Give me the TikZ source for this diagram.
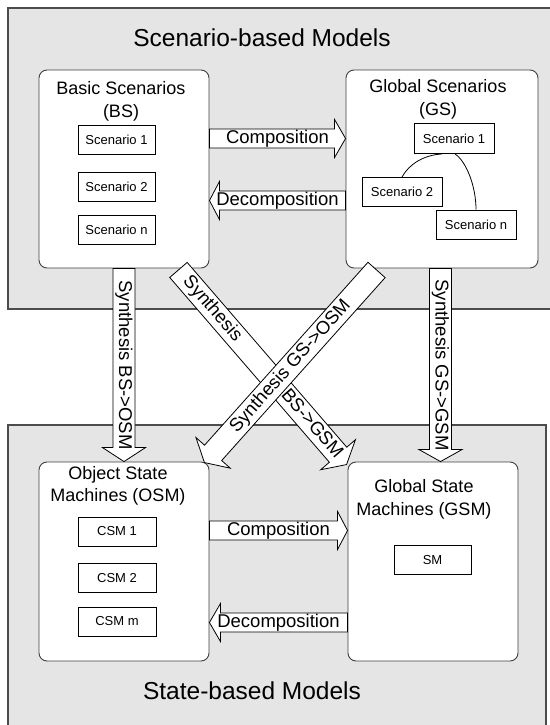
\documentclass[tikz,border=0pt]{standalone}
\usepackage{fontspec}
\setmainfont{Liberation Sans}
\usetikzlibrary{calc}

\tikzset{
  panel/.style={draw=black!70, line width=1.2pt, fill=black!10},
  group/.style={draw=black!75, line width=0.9pt, fill=white, rounded corners=8pt, inner sep=0pt},
  item/.style={draw=black, line width=0.9pt, fill=white, minimum height=29pt, inner sep=0pt,
               font=\fontsize{13}{15}\selectfont},
  heading/.style={font=\fontsize{24.5}{29}\selectfont, inner sep=0pt},
  grouptitle/.style={font=\fontsize{18}{22.5}\selectfont, align=center, inner sep=0pt},
  barrow/.style={draw=black, line width=0.8pt, fill=white, line join=miter},
  barrowtext/.style={font=\fontsize{18.5}{21}\selectfont, inner sep=0pt},
}

% Block arrow: #1 tail, #2 tip, #3 half shaft width, #4 half head width,
% #5 head length, #6 label
\newcommand\blockarrow[6]{%
  \coordinate (ba-s) at (#1);
  \coordinate (ba-t) at (#2);
  \coordinate (ba-b) at ($(ba-t)!#5!(ba-s)$);
  \draw[barrow] ($(ba-s)!#3!90:(ba-t)$) -- ($(ba-b)!#3!-90:(ba-s)$)
    -- ($(ba-b)!#4!-90:(ba-s)$) -- (ba-t) -- ($(ba-b)!#4!90:(ba-s)$)
    -- ($(ba-b)!#3!90:(ba-s)$) -- ($(ba-s)!#3!-90:(ba-t)$) -- cycle;
  \path (ba-s) -- (ba-t) node[barrowtext, midway, sloped] {#6};
}

\begin{document}
\begin{tikzpicture}[x=1pt, y=-1pt]
\fill[white] (0,0) rectangle (549,725);
\useasboundingbox (0,0) rectangle (549,725);

% the two model layers
\path[panel] (8,8) rectangle (552,309);
\path[panel] (8,425) rectangle (546,730);
\node[heading, anchor=base] (scen) at (262,47) {Scenario-based Models};
\node[heading, anchor=base] (state) at (252,699) {State-based Models};

% model groups
\node[group, minimum width=170pt, minimum height=198pt] (bs) at (124,169) {};
\node[group, minimum width=192pt, minimum height=198pt] (gs) at (442,169) {};
\node[group, minimum width=170pt, minimum height=199pt] (osm) at (124,561.5) {};
\node[group, minimum width=170pt, minimum height=199pt] (gsm) at (433,561.5) {};

% titles, placed by the baseline of their last line
\node[grouptitle, anchor=base] (bst) at (121,117) {Basic Scenarios\\(BS)};
\node[grouptitle, anchor=base] (gst) at (438,115) {Global Scenarios\\(GS)};
\node[grouptitle, anchor=base] (osmt) at (118,501.5) {Object State\\Machines (OSM)};
\node[grouptitle, anchor=base] (gsmt) at (424,515) {Global State\\Machines (GSM)};

% basic scenarios
\node[item, minimum width=77pt] (bs1) at (116.5,140) {Scenario 1};
\node[item, minimum width=77pt] (bs2) at (116.5,186.5) {Scenario 2};
\node[item, minimum width=77pt] (bsn) at (116.5,230) {Scenario n};

% global scenarios
\node[item, minimum width=80pt, minimum height=30pt] (gs1) at (454,138.5) {Scenario 1};
\node[item, minimum width=80pt] (gs2) at (402,192) {Scenario 2};
\node[item, minimum width=80pt] (gsn) at (476,224.5) {Scenario n};
\draw[line width=0.8pt] (gs2.north) .. controls +(7,-13) and +(-18,1) .. ([xshift=-12pt]gs1.south);
\draw[line width=0.8pt] ([xshift=1pt]gs1.south) .. controls +(12,8) and +(0,-22) .. (gsn.north);

% object state machines
\node[item, minimum width=78pt] (c1) at (117,531.5) {CSM 1};
\node[item, minimum width=78pt] (c2) at (117,578) {CSM 2};
\node[item, minimum width=78pt] (cm) at (117,621.5) {CSM m};

% global state machine
\node[item, minimum width=77pt] (sm) at (432.5,560) {SM};

% horizontal transformations
\blockarrow{bs.east |- gs1.center}{gs.west |- gs1.center}{9.5pt}{19pt}{11pt}{Composition}
\blockarrow{gs.west |- 0,200.5}{bs.east |- 0,200.5}{9.5pt}{19pt}{10pt}{Decomposition}
\blockarrow{osm.east |- 0,530.5}{gsm.west |- 0,530.5}{9.5pt}{19pt}{10pt}{Composition}
\blockarrow{gsm.west |- 0,622.5}{osm.east |- 0,622.5}{9.5pt}{19pt}{11pt}{Decomposition}

% synthesis steps
\blockarrow{bs.south}{osm.north}{11pt}{21.5pt}{14pt}{Synthesis BS->OSM}
\blockarrow{$(gs.south)+(-1.5,0)$}{$(gs.south |- gsm.north)+(-1.5,0)$}{11pt}{21.5pt}{12pt}{Synthesis GS->GSM}
\blockarrow{$(bs.south east)+(-31,1.5)$}{$(gsm.north west)+(-1,3)$}{11.5pt}{23pt}{13pt}{Synthesis\hspace{70pt}BS->GSM}
\blockarrow{$(gs.south west)+(31,1.5)$}{$(osm.north east)+(-5,1)$}{11.5pt}{23pt}{13pt}{Synthesis GS->OSM}
\end{tikzpicture}
\end{document}
